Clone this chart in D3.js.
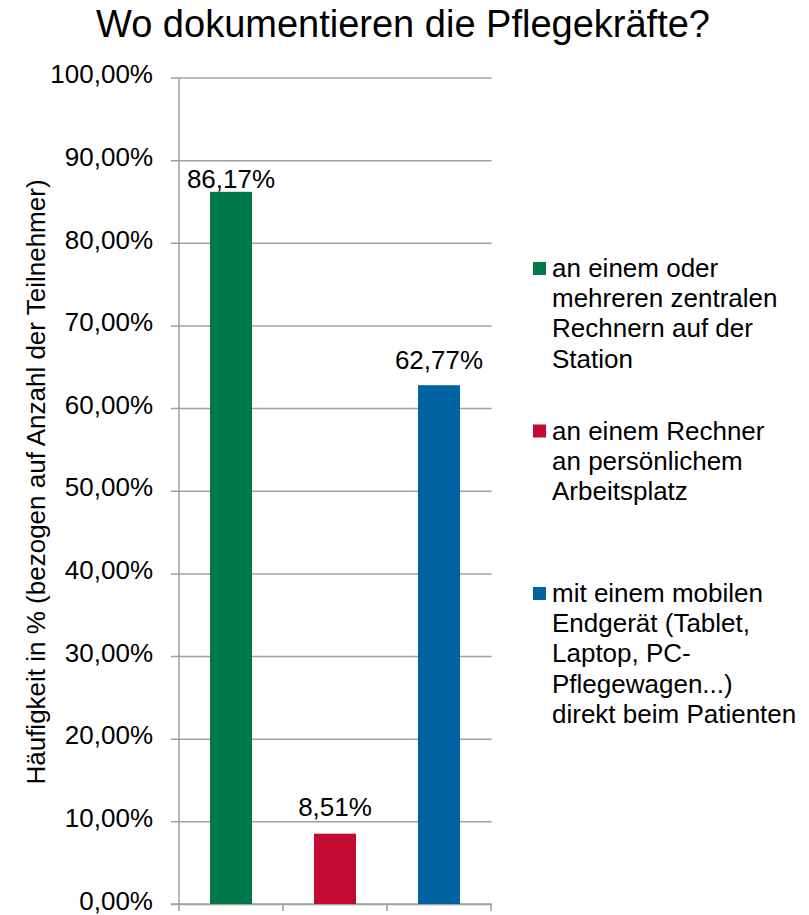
<!DOCTYPE html>
<html>
<head>
<meta charset="utf-8">
<script src="https://cdn.jsdelivr.net/npm/d3@7"></script>
<style>
	body { margin: 0; background: #fff; }
	svg { display: block; font-family: Arial, "Liberation Sans", sans-serif; }
</style>
</head>
<body>
<div id="wrapper"></div>
<script>
const title = "Wo dokumentieren die Pflegekräfte?";
const yTitle = "Häufigkeit in % (bezogen auf Anzahl der Teilnehmer)";
const categories = [
	"an einem oder mehreren zentralen Rechnern auf der Station",
	"an einem Rechner an persönlichem Arbeitsplatz",
	"mit einem mobilen Endgerät (Tablet, Laptop, PC-Pflegewagen...) direkt beim Patienten",
];
const legendLines = [
	["an einem oder", "mehreren zentralen", "Rechnern auf der", "Station"],
	["an einem Rechner", "an persönlichem", "Arbeitsplatz"],
	["mit einem mobilen", "Endgerät (Tablet,", "Laptop, PC-", "Pflegewagen...)", "direkt beim Patienten"],
];
const values = [0.8617, 0.0851, 0.6277];
const colors = ["#00784a", "#c20a32", "#0064a2"];
const yTicks = [0, 0.1, 0.2, 0.3, 0.4, 0.5, 0.6, 0.7, 0.8, 0.9, 1];

const dimensions = {
	width: 809,
	height: 915,
	margins: { top: 77, right: 318, bottom: 11, left: 179 },
};
const fontSize = 26;
const gridColor = "#a0a0a0";

const locale = d3.formatLocale({ decimal: ",", thousands: ".", grouping: [3], currency: ["", " €"] });
const pct = locale.format(".2%");

const svg = d3
	.select("#wrapper")
	.append("svg")
	.attr("width", dimensions.width)
	.attr("height", dimensions.height);

const x0 = dimensions.margins.left;
const x1 = dimensions.width - dimensions.margins.right;
const yScale = d3.scaleLinear().domain([0, 1]).range([904, 77.5]);
const xScale = d3.scaleBand().domain(categories).range([x0, x1]).padding(0);
const barWidth = xScale.bandwidth() * 0.404;

// title
svg.append("text")
	.attr("x", 403)
	.attr("y", 37)
	.attr("text-anchor", "middle")
	.attr("font-size", 38)
	.attr("fill", "#000")
	.text(title);

// gridlines + y axis
const yAxis = d3.axisLeft(yScale)
	.tickValues(yTicks)
	.tickFormat(pct)
	.tickSize(8)
	.tickPadding(18);
const yAxisG = svg.append("g")
	.attr("transform", `translate(${x0},0)`)
	.call(yAxis);
yAxisG.select(".domain").remove();
yAxisG.selectAll(".tick line")
	.attr("stroke", gridColor)
	.attr("stroke-width", 1.5)
	.attr("x2", x1 - x0 + 0.5)
	.attr("x1", -8);
yAxisG.selectAll(".tick text")
	.attr("font-size", fontSize)
	.attr("font-family", "Arial, 'Liberation Sans', sans-serif")
	.attr("fill", "#000")
	.attr("dy", "0.2em");
svg.append("line")
	.attr("x1", x0).attr("x2", x0)
	.attr("y1", yScale(1)).attr("y2", yScale(0))
	.attr("stroke", gridColor)
	.attr("stroke-width", 1.5);

// x axis (ticks at category boundaries)
const boundaries = categories.map((c) => xScale(c)).concat([x1]);
svg.append("line")
	.attr("x1", x0 - 8).attr("x2", x1 + 0.5)
	.attr("y1", yScale(0)).attr("y2", yScale(0))
	.attr("stroke", gridColor)
	.attr("stroke-width", 1.5);
svg.selectAll(".xtick")
	.data(boundaries)
	.enter()
	.append("line")
	.attr("class", "xtick")
	.attr("x1", (d) => d).attr("x2", (d) => d)
	.attr("y1", yScale(0)).attr("y2", yScale(0) + 7)
	.attr("stroke", gridColor)
	.attr("stroke-width", 1.5);

// bars
svg.selectAll(".bar")
	.data(values)
	.enter()
	.append("rect")
	.attr("class", "bar")
	.attr("x", (d, i) => xScale(categories[i]) + (xScale.bandwidth() - barWidth) / 2)
	.attr("width", barWidth)
	.attr("y", (d) => yScale(d))
	.attr("height", (d) => yScale(0) - yScale(d))
	.attr("fill", (d, i) => colors[i]);

// data labels (first one was pulled down in the original)
const labelGap = [4, 18, 16];
svg.selectAll(".label")
	.data(values)
	.enter()
	.append("text")
	.attr("class", "label")
	.attr("x", (d, i) => xScale(categories[i]) + xScale.bandwidth() / 2)
	.attr("y", (d, i) => yScale(d) - labelGap[i])
	.attr("text-anchor", "middle")
	.attr("font-size", fontSize)
	.attr("fill", "#000")
	.text((d) => pct(d));

// y axis title
svg.append("text")
	.attr("transform", "translate(45,482) rotate(-90)")
	.attr("text-anchor", "middle")
	.attr("font-size", fontSize)
	.attr("fill", "#000")
	.text(yTitle);

// legend
const legend = svg.selectAll(".legend")
	.data(legendLines)
	.enter()
	.append("g")
	.attr("class", "legend")
	.attr("transform", (d, i) => `translate(533, ${277 + i * 162.5})`);
legend.append("rect")
	.attr("x", 0)
	.attr("y", -15)
	.attr("width", 13)
	.attr("height", 13)
	.attr("fill", (d, i) => colors[i]);
legend.append("text")
	.attr("font-size", fontSize)
	.attr("fill", "#000")
	.selectAll("tspan")
	.data((d) => d)
	.enter()
	.append("tspan")
	.attr("x", 19)
	.attr("y", (d, j) => j * 30.2)
	.text((d) => d);
</script>
</body>
</html>
